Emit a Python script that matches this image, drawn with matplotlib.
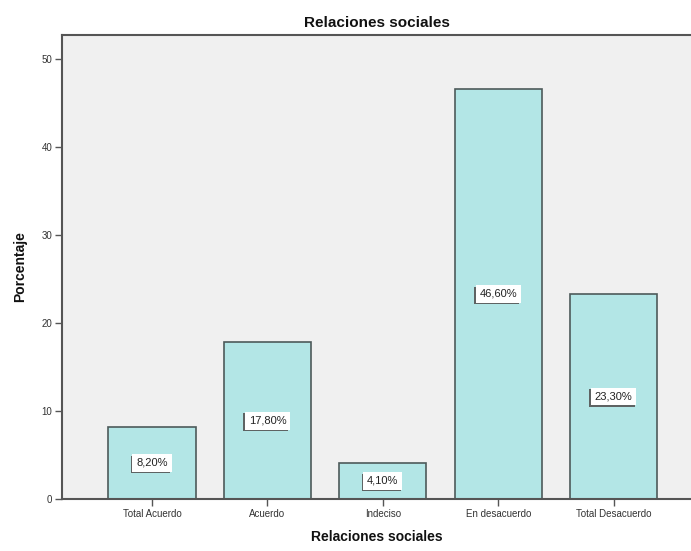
import matplotlib
matplotlib.use("Agg")
import matplotlib.pyplot as plt
import matplotlib.patheffects as pe

categories = ["Total Acuerdo", "Acuerdo", "Indeciso", "En desacuerdo", "Total Desacuerdo"]
percentages = [8.2, 17.8, 4.1, 46.6, 23.3]
bar_labels = ["8,20%", "17,80%", "4,10%", "46,60%", "23,30%"]
y_ticks = [0, 10, 20, 30, 40, 50]

plt.rcParams["font.family"] = ["Liberation Sans", "DejaVu Sans"]
axis_gray = "#555555"

fig = plt.figure(figsize=(6.91, 5.51), dpi=100)
ax = fig.add_axes([0.0897, 0.0944, 0.9103, 0.8421])
ax.set_facecolor("#f0f0f0")

x = list(range(len(categories)))
ax.bar(x, percentages, width=0.755, color="#b3e6e6", edgecolor="#4d5a5a", linewidth=1.2, zorder=2)

# value boxes at mid-height of each bar, with a thin drop shadow on the box
for xi, val, lab in zip(x, percentages, bar_labels):
    t = ax.text(xi, val / 2, lab, ha="center", va="center", fontsize=8, color="#222222", zorder=4,
                bbox=dict(boxstyle="square,pad=0.35", facecolor="white", edgecolor="none"))
    t.get_bbox_patch().set_path_effects([
        pe.SimplePatchShadow(offset=(-1.2, -1.2), shadow_rgbFace="#555555", alpha=0.9),
        pe.Normal(),
    ])

ax.set_xlim(-0.78, 4.67)
ax.set_ylim(0, 52.7)
ax.set_xticks(x)
ax.set_xticklabels(categories, fontsize=7, color="#333333")
ax.set_yticks(y_ticks)
ax.set_yticklabels([str(t) for t in y_ticks], fontsize=7, color="#333333")
ax.tick_params(axis="both", direction="out", length=5, width=1, color=axis_gray, pad=2)

for side in ["left", "bottom", "top"]:
    ax.spines[side].set_color(axis_gray)
    ax.spines[side].set_linewidth(1.5)
ax.spines["right"].set_visible(False)

ax.set_title("Relaciones sociales", fontsize=11, fontweight="bold", color="#111111", pad=6)
ax.set_xlabel("Relaciones sociales", fontsize=10, fontweight="bold", color="#111111", labelpad=8)
ax.set_ylabel("Porcentaje", fontsize=10, fontweight="bold", color="#111111", labelpad=10)

fig.savefig("out.png", dpi=100)
plt.close(fig)
